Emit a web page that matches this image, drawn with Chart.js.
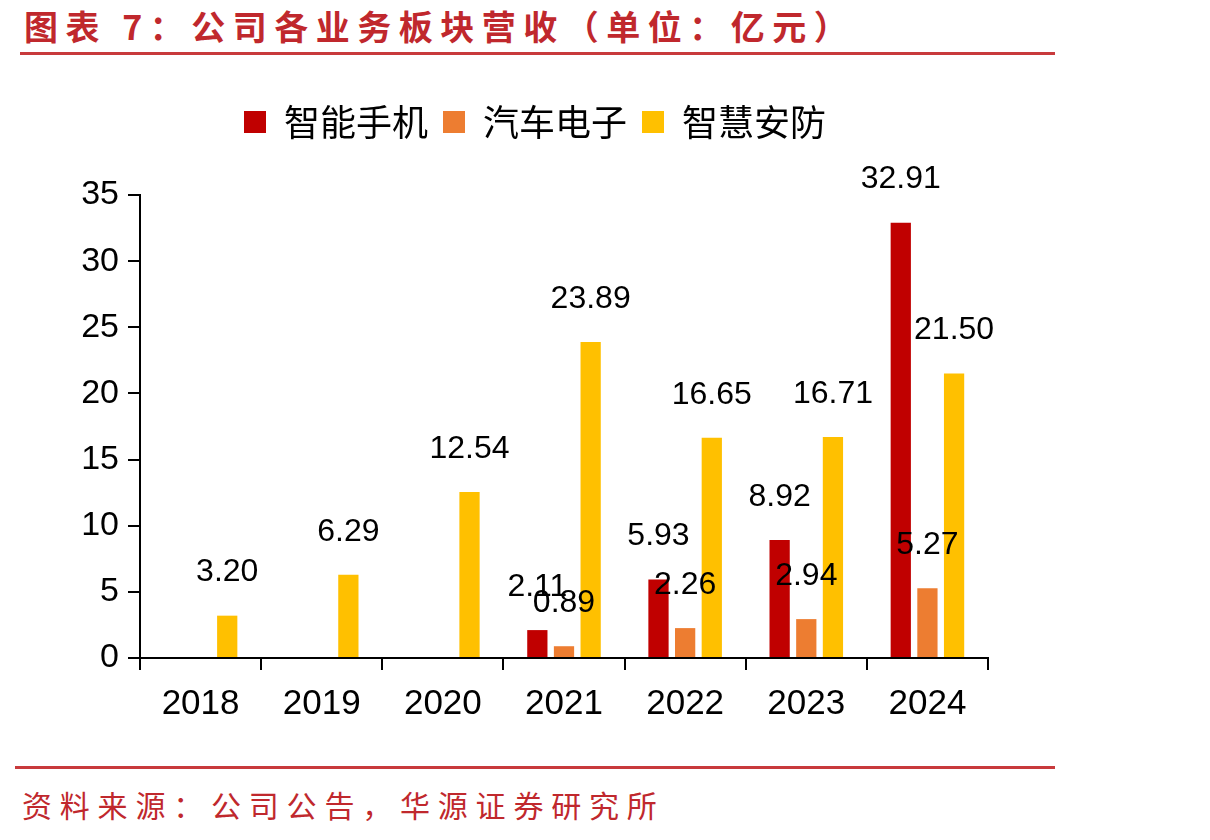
<!DOCTYPE html>
<html>
<head>
<meta charset="utf-8">
<script src="https://cdn.jsdelivr.net/npm/chart.js@4/dist/chart.umd.min.js"></script>
<style>
  body { margin: 0; background: #fff; width: 1210px; height: 840px; position: relative; overflow: hidden; }
  .title { position: absolute; left: 24px; top: 1px; font: bold 34px "Noto Sans CJK SC"; color: #C0282D; letter-spacing: 7.5px; white-space: nowrap; }
  .rule { position: absolute; background: #C83A3C; height: 3px; }
  .source { position: absolute; left: 22px; top: 782px; font: 30px "Noto Sans CJK SC"; color: #C0282D; letter-spacing: 7.8px; white-space: nowrap; }
  .wrap { position: absolute; left: 0; top: 80px; width: 1070px; height: 670px; }
</style>
</head>
<body>
<div class="title">图表 7：公司各业务板块营收（单位：亿元）</div>
<div class="rule" style="left:20px; top:52px; width:1035px;"></div>
<div class="wrap"><canvas id="myChart"></canvas></div>
<div class="rule" style="left:15px; top:766px; width:1040px;"></div>
<div class="source">资料来源：公司公告，华源证券研究所</div>
<script>
var years = ['2018', '2019', '2020', '2021', '2022', '2023', '2024'];
var phone = [null, null, null, 2.11, 5.93, 8.92, 32.91];
var auto = [null, null, null, 0.89, 2.26, 2.94, 5.27];
var security = [3.20, 6.29, 12.54, 23.89, 16.65, 16.71, 21.50];
var seriesNames = ['智能手机', '汽车电子', '智慧安防'];
var colors = ['#C00000', '#ED7D31', '#FFC000'];
var yTicks = [0, 5, 10, 15, 20, 25, 30, 35];

// extra room under the legend
var legendGap = {
  id: 'legendGap',
  beforeInit: function(chart) {
    var fit = chart.legend.fit;
    chart.legend.fit = function() {
      fit.bind(chart.legend)();
      this.height += 45;
    };
  }
};

var valueLabels = {
  id: 'valueLabels',
  afterDatasetsDraw: function(chart) {
    var ctx = chart.ctx;
    ctx.save();
    ctx.font = '32px "Liberation Sans"';
    ctx.fillStyle = '#000';
    ctx.textAlign = 'center';
    ctx.textBaseline = 'middle';
    chart.data.datasets.forEach(function(ds, i) {
      var meta = chart.getDatasetMeta(i);
      meta.data.forEach(function(bar, j) {
        var v = ds.data[j];
        if (v === null) return;
        ctx.fillText(v.toFixed(2), bar.x, bar.y - 43);
      });
    });
    ctx.restore();
  }
};

var ctx = document.getElementById('myChart').getContext('2d');
var myChart = new Chart(ctx, {
  type: 'bar',
  data: {
    labels: years,
    datasets: [
      { label: seriesNames[0], data: phone, backgroundColor: colors[0] },
      { label: seriesNames[1], data: auto, backgroundColor: colors[1] },
      { label: seriesNames[2], data: security, backgroundColor: colors[2] }
    ]
  },
  options: {
    responsive: true,
    maintainAspectRatio: false,
    animation: false,
    datasets: { bar: { categoryPercentage: 0.66, barPercentage: 0.76 } },
    layout: { padding: { top: 9, right: 82, left: 82, bottom: 0 } },
    plugins: {
      legend: {
        position: 'top',
        labels: {
          font: { family: '"Noto Sans CJK SC"', size: 36 },
          color: '#000',
          boxWidth: 22,
          boxHeight: 22,
          padding: 15
        }
      },
      tooltip: { enabled: false }
    },
    scales: {
      x: {
        grid: { display: true, drawOnChartArea: false, drawTicks: true, tickLength: 12, color: '#000', lineWidth: 2, offset: true },
        border: { display: true, color: '#000', width: 2 },
        ticks: { color: '#000', font: { family: '"Liberation Sans"', size: 35 }, padding: 13 },
        afterFit: function(scale) { scale.height = 92; }
      },
      y: {
        min: 0,
        max: 35,
        afterBuildTicks: function(scale) { scale.ticks = yTicks.map(function(v) { return { value: v }; }); },
        grid: { display: true, drawOnChartArea: false, drawTicks: true, tickLength: 12, color: '#000', lineWidth: 2 },
        border: { display: true, color: '#000', width: 2 },
        ticks: { color: '#000', font: { family: '"Liberation Sans"', size: 34 }, padding: 9 },
        afterFit: function(scale) { scale.width = 58; }
      }
    }
  },
  plugins: [legendGap, valueLabels]
});
</script>
</body>
</html>
